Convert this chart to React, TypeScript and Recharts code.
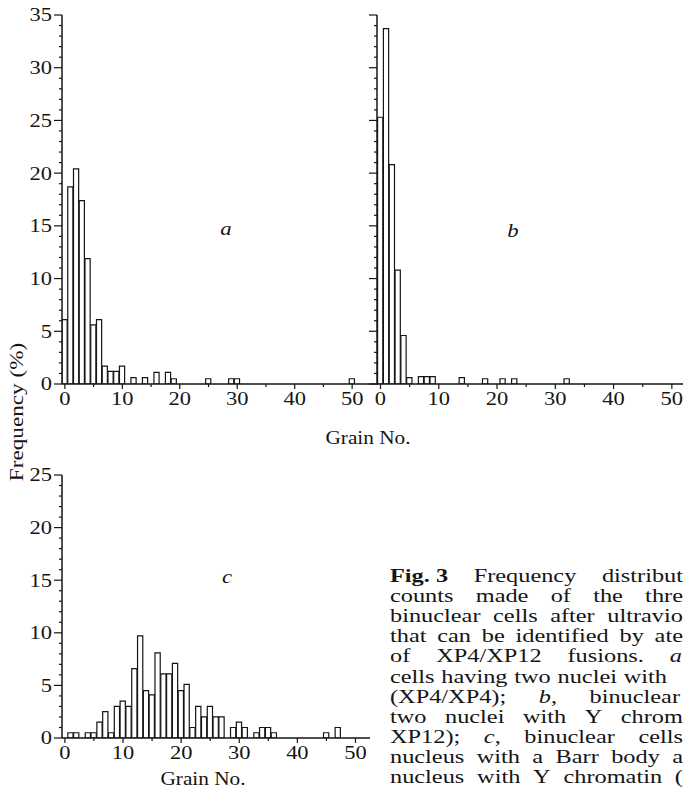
import React from 'react';
import { BarChart, Bar, XAxis, YAxis } from 'recharts';

// a: grain counts, binuclear cells with two Barr-body nuclei (XP4/XP4)
const grainA = [0, 1, 2, 3, 4, 5, 6, 7, 8, 9, 10, 12, 14, 16, 18, 19, 25, 29, 30, 50];
const freqA = [6.1, 18.7, 20.4, 17.4, 11.9, 5.6, 6.1, 1.7, 1.2, 1.2, 1.7, 0.6, 0.6, 1.1, 1.1, 0.5, 0.5, 0.5, 0.5, 0.5];

// b: two nuclei with Y chromatin (XP12/XP12)
const grainB = [0, 1, 2, 3, 4, 5, 7, 8, 9, 14, 18, 21, 23, 32];
const freqB = [25.3, 33.7, 20.8, 10.8, 4.6, 0.6, 0.7, 0.7, 0.7, 0.6, 0.5, 0.5, 0.5, 0.5];

// c: heterokaryons, one Barr body nucleus + one Y chromatin nucleus
const grainC = [1, 2, 4, 5, 6, 7, 8, 9, 10, 11, 12, 13, 14, 15, 16, 17, 18, 19, 20, 21, 22, 23, 24, 25, 26, 27, 29, 30, 31, 33, 34, 35, 36, 45, 47];
const freqC = [0.5, 0.5, 0.5, 0.5, 1.5, 2.5, 0.5, 3.0, 3.5, 3.0, 6.6, 9.7, 4.5, 4.1, 8.1, 6.1, 6.1, 7.1, 4.5, 5.1, 1.0, 3.0, 2.0, 3.0, 2.0, 2.0, 1.0, 1.5, 1.0, 0.5, 1.0, 1.0, 0.5, 0.5, 1.0];

const xTicks = [0, 5, 10, 15, 20, 25, 30, 35, 40, 45, 50];
const yTicks35 = [0, 1, 2, 3, 4, 5, 6, 7, 8, 9, 10, 11, 12, 13, 14, 15, 16, 17, 18, 19, 20, 21, 22, 23, 24, 25, 26, 27, 28, 29, 30, 31, 32, 33, 34, 35];
const yTicks25 = [0, 1, 2, 3, 4, 5, 6, 7, 8, 9, 10, 11, 12, 13, 14, 15, 16, 17, 18, 19, 20, 21, 22, 23, 24, 25];

// caption words: *bold*, _italic first letter
const caption = [
  { text: '*Fig.\u00a03* Frequency distribut', right: 683 },
  { text: 'counts made of the thre', right: 683 },
  { text: 'binuclear cells after ultravio', right: 683 },
  { text: 'that can be identified by ate', right: 683 },
  { text: 'of XP4/XP12 fusions. _a', right: 682 },
  { text: 'cells having two nuclei with', right: 667 },
  { text: '(XP4/XP4); _b, binuclear', right: 680 },
  { text: 'two nuclei with Y chrom', right: 683 },
  { text: 'XP12); _c, binuclear cells', right: 683 },
  { text: 'nucleus with a Barr body a', right: 683 },
  { text: 'nucleus with Y chromatin (', right: 683 },
];

const FONT = '"Liberation Serif", "Times New Roman", serif';
const INK = '#151515';

const toRows = (g: number[], f: number[]) => g.map((grain, i) => ({ grain, freq: f[i] }));

function YTick({ x, y, payload, labels }: any) {
  const major = payload.value % 5 === 0;
  return (
    <g>
      <line x1={x - (major ? 8 : 3)} x2={x} y1={y} y2={y} stroke={INK} strokeWidth={1.2} />
      {major && labels && (
        <text transform={`translate(${x - 10},${y}) scale(1.25,1)`} textAnchor="end" dy="0.36em"
          fontSize={18} fontFamily={FONT} fill={INK}>{payload.value}</text>
      )}
    </g>
  );
}

function XTick({ x, y, payload }: any) {
  const major = payload.value % 10 === 0;
  return (
    <g>
      <line x1={x} x2={x} y1={y} y2={y + (major ? 5 : 3)} stroke={INK} strokeWidth={1.2} />
      {major && (
        <text transform={`translate(${x},${y + 15}) scale(1.25,1)`} textAnchor="middle" dy="0.36em"
          fontSize={18} fontFamily={FONT} fill={INK}>{payload.value}</text>
      )}
    </g>
  );
}

function Panel({ rows, width, height, yAxisW, xDomain, yMax, yTicks, labels }: any) {
  const plotW = width - yAxisW;
  const unit = plotW / (xDomain[1] - xDomain[0]);
  return (
    <BarChart width={width} height={height} data={rows} margin={{ top: 15, right: 0, bottom: 0, left: 0 }}
      barCategoryGap={0} barGap={0}>
      <XAxis dataKey="grain" type="number" domain={xDomain} allowDataOverflow ticks={xTicks} interval={0}
        height={36} tickSize={0} tickMargin={0} tickLine={false} axisLine={{ stroke: INK, strokeWidth: 1.5 }}
        tick={(p: any) => <XTick {...p} />} />
      <YAxis type="number" domain={[0, yMax]} allowDataOverflow ticks={yTicks} interval={0} width={yAxisW}
        tickSize={0} tickMargin={0} tickLine={false} axisLine={{ stroke: INK, strokeWidth: 1.5 }}
        tick={(p: any) => <YTick {...p} labels={labels} />} />
      <Bar dataKey="freq" fill="#fff" stroke={INK} strokeWidth={1.2} barSize={unit} isAnimationActive={false} />
    </BarChart>
  );
}

function Label({ x, y, children, italic, rotate, size = 19, stretch = 1.2 }: any) {
  return (
    <div style={{
      position: 'absolute', left: x, top: y, whiteSpace: 'nowrap', lineHeight: 1, fontSize: size,
      fontStyle: italic ? 'italic' : 'normal', transformOrigin: '0 0',
      transform: `${rotate ? `rotate(${rotate}deg) ` : ''}scaleX(${stretch}) translate(-50%, -50%)`,
    }}>{children}</div>
  );
}

function CaptionLine({ text, right, top }: any) {
  const S = 1.28;
  const words = text.split(' ');
  return (
    <div style={{
      position: 'absolute', left: 390, top, width: (right - 390) / S, height: 20, display: 'flex',
      justifyContent: 'space-between', whiteSpace: 'nowrap', fontSize: 19, lineHeight: '20px',
      transform: `scaleX(${S})`, transformOrigin: '0 0',
    }}>
      {words.map((w: string, i: number) => {
        if (w.startsWith('*')) return <b key={i}>{w.replace(/\*/g, '')}</b>;
        if (w.startsWith('_')) return <span key={i}><i>{w[1]}</i>{w.slice(2)}</span>;
        return <span key={i}>{w}</span>;
      })}
    </div>
  );
}

export default function App() {
  return (
    <div style={{
      position: 'absolute', left: 0, top: 0, width: 683, height: 804, overflow: 'hidden',
      background: '#fff', fontFamily: FONT, color: INK,
    }}>
      <div style={{ position: 'absolute', left: 0, top: 0 }}>
        <Panel rows={toRows(grainA, freqA)} width={378} height={420} yAxisW={62} xDomain={[-0.5, 54.5]}
          yMax={35} yTicks={yTicks35} labels />
      </div>
      <div style={{ position: 'absolute', left: 337, top: 0 }}>
        <Panel rows={toRows(grainB, freqB)} width={350} height={420} yAxisW={40} xDomain={[-0.6, 52.6]}
          yMax={35} yTicks={yTicks35} labels={false} />
      </div>
      <div style={{ position: 'absolute', left: 0, top: 460 }}>
        <Panel rows={toRows(grainC, freqC)} width={370} height={314} yAxisW={62} xDomain={[-0.5, 52.5]}
          yMax={25} yTicks={yTicks25} labels />
      </div>

      <Label x={226} y={228} italic>a</Label>
      <Label x={513} y={230} italic>b</Label>
      <Label x={227} y={576} italic>c</Label>
      <Label x={368} y={437} stretch={1.12}>Grain No.</Label>
      <Label x={203} y={778} stretch={1.12}>Grain No.</Label>
      <Label x={16} y={412} rotate={-90} stretch={1.22}>Frequency (%)</Label>

      {caption.map((c, i) => (
        <CaptionLine key={i} text={c.text} right={c.right} top={566 + i * 20.1} />
      ))}
    </div>
  );
}
